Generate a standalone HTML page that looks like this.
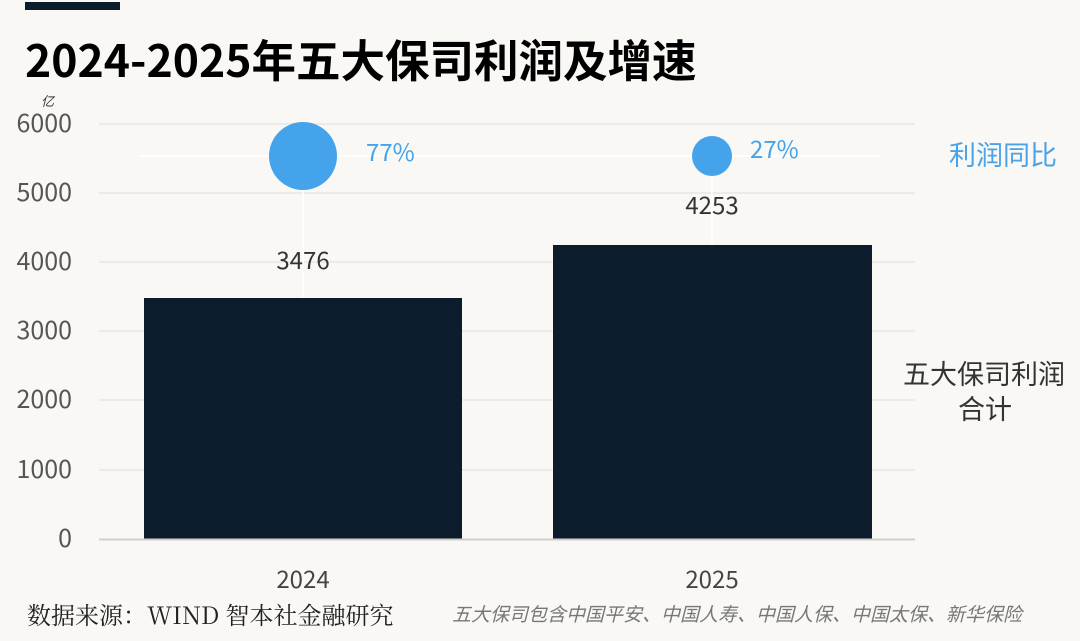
<!DOCTYPE html>
<html><head><meta charset="utf-8"><style>
body{margin:0;background:#f9f8f5;}
svg{display:block;}
text{font-family:"Noto Sans CJK SC","Liberation Sans",sans-serif;}
</style></head><body>
<svg width="1080" height="641" viewBox="0 0 1080 641">
<rect width="1080" height="641" fill="#f9f8f5"/>
<rect x="25" y="2" width="95" height="8" fill="#0c1c2c"/>
<text x="25" y="77" font-size="44.5" font-weight="bold" fill="#000">2024-2025年五大保司利润及增速</text>
<text x="41" y="106" font-size="13" font-style="italic" fill="#333">亿</text>
<g stroke="#ecebe8" stroke-width="2">
<line x1="99" y1="124" x2="915" y2="124"/><line x1="99" y1="193" x2="915" y2="193"/>
<line x1="99" y1="262" x2="915" y2="262"/><line x1="99" y1="331" x2="915" y2="331"/>
<line x1="99" y1="400" x2="915" y2="400"/><line x1="99" y1="470" x2="915" y2="470"/>
</g>
<g font-size="25" fill="#555" text-anchor="end">
<text x="72" y="132">6000</text><text x="72" y="201">5000</text><text x="72" y="270">4000</text>
<text x="72" y="339">3000</text><text x="72" y="408">2000</text><text x="72" y="478">1000</text><text x="72" y="547">0</text>
</g>
<line x1="140" y1="156" x2="880" y2="156" stroke="#fff" stroke-width="2"/>
<line x1="303" y1="156" x2="303" y2="298" stroke="#fff" stroke-width="1.5"/>
<line x1="712" y1="156" x2="712" y2="245" stroke="#fff" stroke-width="1.5"/>
<rect x="144" y="298" width="318" height="241" fill="#0c1c2c"/>
<rect x="553" y="245" width="319" height="294" fill="#0c1c2c"/>
<line x1="99" y1="539.5" x2="915" y2="539.5" stroke="#d0d0d0" stroke-width="2"/>
<circle cx="303" cy="156" r="34" fill="#44a3ea"/>
<circle cx="712" cy="156" r="20" fill="#44a3ea"/>
<g font-size="24" fill="#44a3ea"><text x="366" y="161">77%</text><text x="750" y="158">27%</text></g>
<g font-size="24" fill="#333" text-anchor="middle"><text x="303" y="269">3476</text><text x="712" y="214">4253</text></g>
<text x="1057" y="165" font-size="27" fill="#4aa3e8" text-anchor="end">利润同比</text>
<text x="984" y="384" font-size="27" fill="#333" text-anchor="middle">五大保司利润</text>
<text x="985" y="419" font-size="27" fill="#333" text-anchor="middle">合计</text>
<g font-size="24" fill="#444" text-anchor="middle"><text x="303" y="588">2024</text><text x="712" y="588">2025</text></g>
<text x="27" y="624" font-size="24" fill="#222" style="font-family:'Noto Serif CJK SC',serif">数据来源：WIND 智本社金融研究</text>
<text x="452" y="621" font-size="19" font-style="italic" fill="#777">五大保司包含中国平安、中国人寿、中国人保、中国太保、新华保险</text>
</svg>
</body></html>
